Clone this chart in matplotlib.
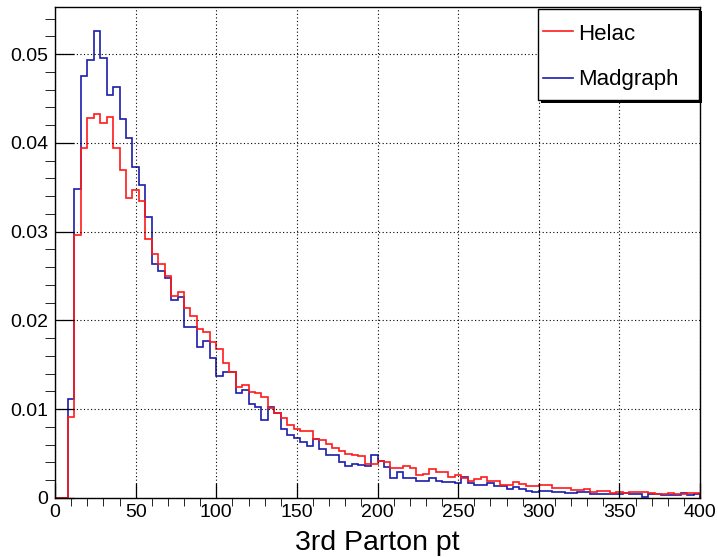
"""3rd parton pt: Helac vs Madgraph, normalised histograms (ROOT-style look)."""
import numpy as np
import matplotlib; matplotlib.use("Agg")
import matplotlib.pyplot as plt
from matplotlib.lines import Line2D
from matplotlib.patches import Rectangle

plt.rcParams["font.family"] = ["Liberation Sans", "DejaVu Sans"]

# 4 GeV bins, 0..400; first two bins empty
BIN_W, X_MAX = 4, 400
helac = [0, 0,
         0.0091, 0.0296, 0.0394, 0.0428, 0.0432, 0.0422, 0.0429, 0.0394, 0.0369, 0.0338,
         0.0347, 0.0335, 0.0292, 0.0275, 0.0264, 0.0250, 0.0228, 0.0232, 0.0214, 0.0205,
         0.0190, 0.0187, 0.0176, 0.0168, 0.0152, 0.0142, 0.0125, 0.0127, 0.0119, 0.0118,
         0.0114, 0.0101, 0.0096, 0.0090, 0.0082, 0.0078, 0.0076, 0.0075, 0.0066, 0.0065,
         0.0061, 0.0056, 0.0053, 0.0050, 0.0048, 0.0047, 0.0038, 0.0038, 0.0042, 0.0041,
         0.0034, 0.0034, 0.0036, 0.0034, 0.0026, 0.0027, 0.0033, 0.0029, 0.0029, 0.0024,
         0.0026, 0.0022, 0.0019, 0.0021, 0.0024, 0.0019, 0.0019, 0.0015, 0.0015, 0.0018,
         0.0016, 0.0013, 0.0013, 0.0015, 0.0015, 0.0011, 0.0011, 0.0011, 0.0009, 0.0009,
         0.0010, 0.0007, 0.0008, 0.0008, 0.0006, 0.0007, 0.0006, 0.0007, 0.0007, 0.0007,
         0.0006, 0.0005, 0.0005, 0.0006, 0.0005, 0.0005, 0.0006, 0.0006]
madgraph = [0, 0,
            0.0112, 0.0348, 0.0475, 0.0493, 0.0526, 0.0496, 0.0454, 0.0463, 0.0427, 0.0406,
            0.0373, 0.0352, 0.0316, 0.0264, 0.0256, 0.0248, 0.0223, 0.0226, 0.0193, 0.0193,
            0.0170, 0.0177, 0.0158, 0.0137, 0.0142, 0.0142, 0.0118, 0.0122, 0.0106, 0.0103,
            0.0088, 0.0102, 0.0096, 0.0078, 0.0071, 0.0068, 0.0063, 0.0059, 0.0067, 0.0055,
            0.0048, 0.0048, 0.0041, 0.0036, 0.0038, 0.0037, 0.0036, 0.0048, 0.0042, 0.0035,
            0.0023, 0.0029, 0.0023, 0.0023, 0.0019, 0.0019, 0.0022, 0.0019, 0.0018, 0.0018,
            0.0017, 0.0024, 0.0017, 0.0015, 0.0015, 0.0017, 0.0013, 0.0013, 0.0010, 0.0012,
            0.0010, 0.0008, 0.0007, 0.0008, 0.0008, 0.0007, 0.0007, 0.0006, 0.0006, 0.0007,
            0.0007, 0.0005, 0.0005, 0.0004, 0.0004, 0.0005, 0.0006, 0.0004, 0.0004, 0.0001,
            0.0004, 0.00045, 0.0003, 0.0003, 0.0003, 0.0006, 0.0003, 0.0004]
names = ["Helac", "Madgraph"]
colors = ["#ff1a1a", "#1c1caa"]
xticks = [0, 50, 100, 150, 200, 250, 300, 350, 400]
yticks = [0, 0.01, 0.02, 0.03, 0.04, 0.05]
ytick_labels = ["0", "0.01", "0.02", "0.03", "0.04", "0.05"]
xlabel = "3rd Parton pt"

W, H = 718, 557
fig = plt.figure(figsize=(W / 100, H / 100), dpi=100)
ax = fig.add_axes([55 / W, 59 / H, 645 / W, 491 / H])
edges = np.arange(0, X_MAX + BIN_W, BIN_W)

# madgraph under, helac on top (as in the ROOT canvas)
ax.stairs(madgraph, edges, color=colors[1], lw=1.2, baseline=0)
ax.stairs(helac, edges, color=colors[0], lw=1.2, baseline=0)

ax.set_xlim(0, X_MAX); ax.set_ylim(0, 0.0553)
ax.set_xticks(xticks); ax.set_yticks(yticks, ytick_labels)
ax.set_xticks(np.arange(0, X_MAX + 1, 10), minor=True)
ax.set_yticks(np.arange(0, 0.0553, 0.002), minor=True)
ax.tick_params(direction="in", labelsize=14, top=False, right=False, width=0.9)
ax.tick_params(axis="x", which="major", length=10.8, pad=4)
ax.tick_params(axis="x", which="minor", length=5.4)
ax.tick_params(axis="y", which="major", length=13.7, pad=5)
ax.tick_params(axis="y", which="minor", length=7)
ax.grid(True, which="major", color="black", lw=0.8, ls=(0, (1, 2.2)))
for s in ax.spines.values():
    s.set_linewidth(1.0)
ax.set_xlabel(xlabel, fontsize=20.5, labelpad=7)

# ROOT-like legend box with drop shadow, figure pixel coords
def fx(px): return px / W
def fy(py): return 1 - py / H
fig.add_artist(Rectangle((fx(541), fy(103)), fx(161), 92 / H, transform=fig.transFigure,
                         facecolor="black", edgecolor="none", zorder=5))
fig.add_artist(Rectangle((fx(538), fy(100)), fx(161), 91 / H, transform=fig.transFigure,
                         facecolor="white", edgecolor="black", lw=1, zorder=6))
for name, c, py, base in zip(names, colors, [31, 78], [39.5, 85]):
    fig.add_artist(Line2D([fx(543), fx(573)], [fy(py), fy(py)], transform=fig.transFigure,
                          color=c, lw=1.2, zorder=7))
    fig.text(fx(578), fy(base), name, fontsize=16, va="baseline", ha="left", zorder=7)

fig.savefig("out.png")
